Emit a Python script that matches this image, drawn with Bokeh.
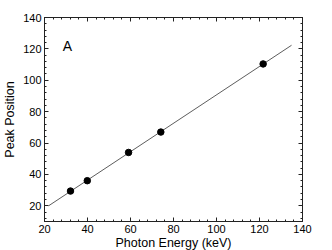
import numpy as np
from bokeh.plotting import figure
from bokeh.models import LinearAxis, SingleIntervalTicker, Range1d, Label, CustomJSTickFormatter
from bokeh.embed import file_html
from bokeh.resources import INLINE

# data
energy = [32.1, 39.9, 59.1, 74.1, 121.7]
peak = [29.4, 36.0, 54.0, 67.0, 110.4]
fit_x = [21.9, 134.9]
slope, intercept = np.polyfit(energy, peak, 1)
fit_y = [slope * x + intercept for x in fit_x]

FONT = "Liberation Sans"

p = figure(frame_width=258, frame_height=204, output_backend="svg", toolbar_location=None,
           x_range=Range1d(20, 140), y_range=Range1d(10, 140),
           min_border_left=0, min_border_right=14, min_border_top=17, min_border_bottom=0)
p.background_fill_color = "white"
p.outline_line_color = "#222222"
p.outline_line_width = 1
p.xgrid.visible = False
p.ygrid.visible = False

p.line(fit_x, fit_y, line_color="#333333", line_width=0.8)
p.scatter(energy, peak, size=6.5, color="black")

p.xaxis.ticker = SingleIntervalTicker(interval=20, num_minor_ticks=5)
p.yaxis.ticker = SingleIntervalTicker(interval=20, num_minor_ticks=5)

def style(ax, labels=True):
    ax.axis_line_color = "#222222"
    ax.major_tick_in = 4
    ax.major_tick_out = 0
    ax.minor_tick_in = 2
    ax.minor_tick_out = 0
    ax.major_tick_line_color = "#222222"
    ax.minor_tick_line_color = "#222222"
    ax.major_label_text_font = FONT
    ax.major_label_text_font_size = "11px"
    ax.major_label_text_color = "black"
    ax.axis_label_text_font = FONT
    ax.axis_label_text_font_size = "12.5px"
    ax.axis_label_text_font_style = "normal"
    ax.axis_label_text_color = "black"
    ax.major_label_standoff = 3 if labels else 0
    if not labels:
        ax.formatter = CustomJSTickFormatter(code="return ''")

style(p.xaxis[0])
style(p.yaxis[0])
p.xaxis.axis_label = "Photon Energy (keV)"
p.yaxis.axis_label = "Peak Position"
p.xaxis.axis_label_standoff = 0
p.xaxis.major_label_standoff = 3
p.yaxis.axis_label_standoff = 3

ra = LinearAxis(ticker=SingleIntervalTicker(interval=20, num_minor_ticks=5))
style(ra, labels=False)
p.add_layout(ra, "right")
ta = LinearAxis(ticker=SingleIntervalTicker(interval=20, num_minor_ticks=5))
style(ta, labels=False)
p.add_layout(ta, "above")

p.add_layout(Label(x=30.7, y=121.7, text="A", text_align="center", text_baseline="alphabetic",
                   text_font=FONT, text_font_size="14px", text_color="black"))

open("out.html", "w").write(file_html(p, INLINE))
